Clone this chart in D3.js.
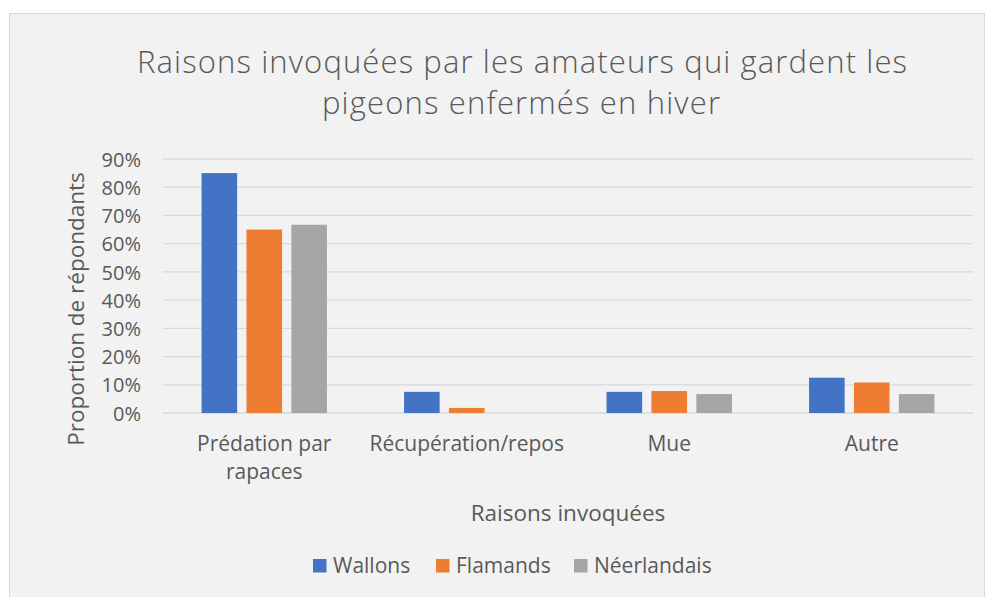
<!DOCTYPE html>
<html>
<head>
<meta charset="utf-8">
<script src="https://cdn.jsdelivr.net/npm/d3@7"></script>
<style>
  body { margin: 0; background: #fff; }
  text { font-family: "Open Sans", sans-serif; fill: #595959; }
</style>
</head>
<body>
<div id="chart"></div>
<script>
// data
const categories = [["Prédation par", "rapaces"], ["Récupération/repos"], ["Mue"], ["Autre"]];
const series = ["Wallons", "Flamands", "Néerlandais"];
const wallons = [0.85, 0.075, 0.075, 0.125];
const flamands = [0.65, 0.018, 0.078, 0.108];
const neerlandais = [0.667, 0, 0.067, 0.067];
const yTicks = [0, 0.1, 0.2, 0.3, 0.4, 0.5, 0.6, 0.7, 0.8, 0.9];

const colors = ["#4472c4", "#ed7d31", "#a5a5a5"];
const values = [wallons, flamands, neerlandais];

let width = 989, height = 597;
let margin = {top: 159, right: 16, bottom: 184, left: 163};
let groupW = 125.4;

let svg = d3.select("#chart").append("svg")
    .attr("width", width)
    .attr("height", height);

// chart area
svg.append("rect")
    .attr("x", 9.5).attr("y", 13.5)
    .attr("width", 975).attr("height", 600)
    .attr("fill", "#f2f2f2")
    .attr("stroke", "#d9d9d9");

// title
let title = svg.append("text")
    .attr("text-anchor", "middle")
    .style("font-size", "31px")
    .style("font-weight", 300);
title.append("tspan").attr("x", 522).attr("y", 73)
    .attr("textLength", 770)
    .text("Raisons invoquées par les amateurs qui gardent les");
title.append("tspan").attr("x", 521).attr("y", 114)
    .attr("textLength", 398)
    .text("pigeons enfermés en hiver");

let y = d3.scaleLinear()
    .domain([0, 0.9])
    .range([height - margin.bottom, margin.top]);

let x0 = d3.scaleBand()
    .domain(d3.range(categories.length))
    .range([margin.left, width - margin.right]);

let x1 = d3.scaleBand()
    .domain(series)
    .range([0, groupW])
    .paddingInner(0.207);

// gridlines
svg.append("g")
    .selectAll("line")
    .data(yTicks)
    .join("line")
    .attr("x1", margin.left)
    .attr("x2", width - margin.right)
    .attr("y1", d => y(d))
    .attr("y2", d => y(d))
    .attr("stroke", "#d9d9d9")
    .attr("stroke-width", 1.3);

// y tick labels
let yAxis = d3.axisLeft(y)
    .tickValues(yTicks)
    .tickFormat(d3.format(".0%"))
    .tickSize(0)
    .tickPadding(0);

let yg = svg.append("g")
    .attr("transform", `translate(${margin.left - 22},0)`)
    .call(yAxis);
yg.select(".domain").remove();
yg.selectAll("text")
    .attr("dy", "0.36em")
    .style("font-size", "20px")
    .style("font-family", "Open Sans, sans-serif")
    .attr("fill", "#595959");

// bars
let groups = svg.append("g")
    .selectAll("g")
    .data(categories.map((c, i) => i))
    .join("g")
    .attr("transform", i => `translate(${x0(i) + (x0.bandwidth() - groupW) / 2},0)`);

groups.selectAll("rect")
    .data(i => series.map((s, j) => ({s: s, j: j, v: values[j][i]})))
    .join("rect")
    .attr("x", d => x1(d.s))
    .attr("width", x1.bandwidth())
    .attr("y", d => y(d.v))
    .attr("height", d => y(0) - y(d.v))
    .attr("fill", d => colors[d.j]);

// category labels
let xl = svg.append("g")
    .selectAll("text")
    .data(categories)
    .join("text")
    .attr("text-anchor", "middle")
    .style("font-size", "21px");
xl.each(function(lines, i) {
  let t = d3.select(this);
  lines.forEach((l, k) => {
    t.append("tspan")
        .attr("x", x0(i) + x0.bandwidth() / 2)
        .attr("y", 451 + k * 28)
        .text(l);
  });
});

// axis titles
svg.append("text")
    .attr("text-anchor", "middle")
    .attr("x", 568).attr("y", 521)
    .style("font-size", "22.5px")
    .text("Raisons invoquées");

svg.append("text")
    .attr("text-anchor", "middle")
    .attr("transform", "translate(84,309) rotate(-90)")
    .style("font-size", "22.5px")
    .text("Proportion de répondants");

// legend
let legendX = [313, 436, 574];
let legend = svg.append("g")
    .selectAll("g")
    .data(series)
    .join("g")
    .attr("transform", (d, i) => `translate(${legendX[i]},559)`);
legend.append("rect")
    .attr("width", 13.5).attr("height", 13.5)
    .attr("fill", (d, i) => colors[i]);
legend.append("text")
    .attr("x", 20).attr("y", 13.5)
    .style("font-size", "21px")
    .text(d => d);
</script>
</body>
</html>
